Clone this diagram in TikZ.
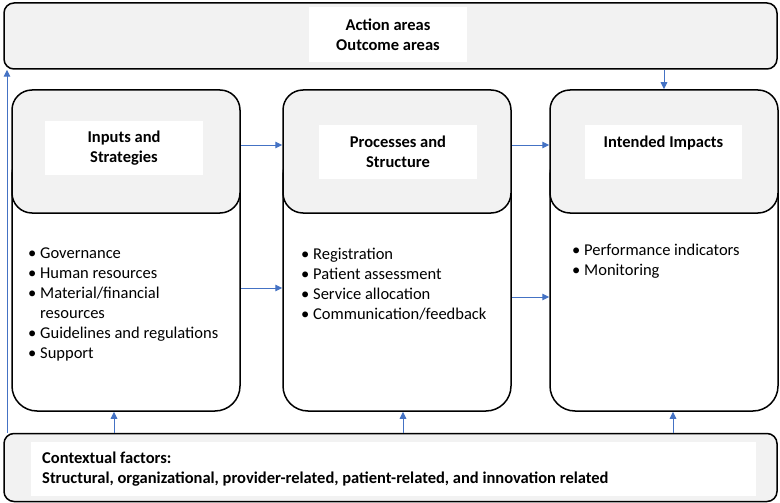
\documentclass[tikz,border=0pt]{standalone}
\usepackage{fontspec}
\setmainfont{Carlito}
\usetikzlibrary{arrows.meta,calc}
\definecolor{boxgray}{HTML}{F2F2F2}
\definecolor{arrblue}{HTML}{4472C4}
\tikzset{
  panel/.style={draw=black, line width=1.5pt, rounded corners=#1, inner sep=0pt},
  panel/.default=10pt,
  label/.style={fill=white, draw=none, inner sep=0pt},
  txt/.style={inner sep=0pt, font=\fontsize{16.5}{20}\selectfont, align=left},
  btxt/.style={inner sep=0pt, font=\fontsize{16.5}{20}\selectfont\bfseries, align=center},
  arr/.style={draw=arrblue, line width=1pt, -{Triangle[length=7pt,width=6.5pt]}},
}
\newcommand{\bl}[1]{\makebox[12pt][l]{\textbullet}#1}
\begin{document}
\begin{tikzpicture}[x=1pt,y=-1pt]
\useasboundingbox (0,0) rectangle (780,503);
% top box
\node[panel, fill=boxgray, minimum width=773pt, minimum height=66pt] (top) at (390.5,36) {};
\node[label, minimum width=158pt, minimum height=55pt] (toplab) at (388,34.5) {};
\node[btxt] (toptext) at (388,35) {Action areas\\Outcome areas};
% bottom box
\node[panel, fill=boxgray, minimum width=773pt, minimum height=68pt] (bot) at (390.5,467.5) {};
\node[label, minimum width=725pt, minimum height=54pt] (botlab) at (393.5,469) {};
\node[txt, font=\fontsize{16.5}{20}\selectfont\bfseries, anchor=west] (bottext) at (42,469.5) {Contextual factors:\\Structural, organizational, provider-related, patient-related, and innovation related};
% columns
\foreach \n/\xl/\xr in {l/12/240, m/283/511, r/550/778}{
  \node[panel=25pt, fill=white, minimum width={\xr-\xl}, minimum height=261pt] (\n low) at ({(\xl+\xr)/2},280.5) {};
  \node[panel=20pt, fill=boxgray, minimum width={\xr-\xl}, minimum height=123pt] (\n gray) at ({(\xl+\xr)/2},151.5) {};
}
\node[label, minimum width=158pt, minimum height=54pt] (llab) at (124,148) {};
\node[btxt] (ltitle) at (124,148) {Inputs and\\Strategies};
\node[label, minimum width=158pt, minimum height=54pt] (mlab) at (398,152) {};
\node[btxt] (mtitle) at (398,152) {Processes and\\Structure};
\node[label, minimum width=157pt, minimum height=54pt] (rlab) at (663.5,152) {};
\node[btxt] (rtitle) at (663.5,143) {Intended Impacts};
% bullet lists
\node[txt, anchor=north west] (llist) at (28,248) {\bl{Governance}\\\bl{Human resources}\\\bl{Material/financial}\\\hspace*{12pt}resources\\\bl{Guidelines and regulations}\\\bl{Support}};
\node[txt, anchor=north west] (mlist) at (301,248) {\bl{Registration}\\\bl{Patient assessment}\\\bl{Service allocation}\\\bl{Communication/feedback}};
\node[txt, anchor=north west] (rlist) at (572,244) {\bl{Performance indicators}\\\bl{Monitoring}};
% connectors
\coordinate (ya) at (0,145);
\coordinate (yb) at (0,288);
\coordinate (yc) at (0,297);
\draw[arr] (lgray.east |- ya) -- (mgray.west |- ya);
\draw[arr] (mgray.east |- ya) -- (rgray.west |- ya);
\draw[arr] (llow.east |- yb) -- (mlow.west |- yb);
\draw[arr] (mlow.east |- yc) -- (rlow.west |- yc);
\draw[arr] (rgray.north |- top.south) -- (rgray.north);
\coordinate (xa) at (114,0);
\coordinate (xb) at (403,0);
\coordinate (xc) at (673,0);
\coordinate (xd) at (7,0);
\draw[arr] (xa |- bot.north) -- (xa |- llow.south);
\draw[arr] (xb |- bot.north) -- (xb |- mlow.south);
\draw[arr] (xc |- bot.north) -- (xc |- rlow.south);
\draw[arr] (xd |- bot.north) -- (xd |- top.south);
\end{tikzpicture}
\end{document}
